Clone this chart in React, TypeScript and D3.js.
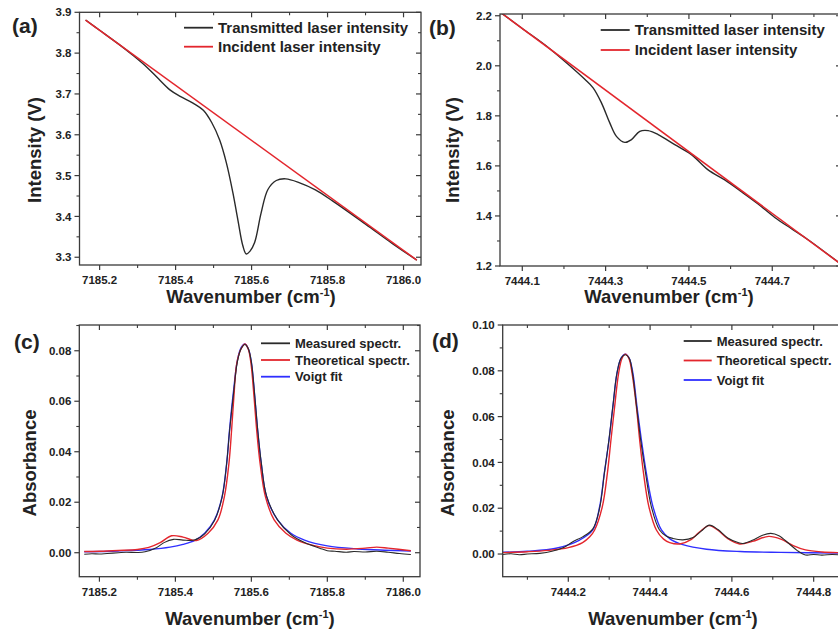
import React from "react";
import * as d3 from "d3";

const FONT = "'Liberation Sans', Arial, Helvetica, sans-serif";

// ---------- Panel (a) ----------
const aXTicks = [7185.2, 7185.4, 7185.6, 7185.8, 7186.0];
const aXMinor = [7185.3, 7185.5, 7185.7, 7185.9];
const aYTicks = [3.3, 3.4, 3.5, 3.6, 3.7, 3.8, 3.9];
const aYMinor = [3.35, 3.45, 3.55, 3.65, 3.75, 3.85];
const aTransmitted: [number, number][] = [
  [7185.163, 3.881], [7185.2, 3.856], [7185.25, 3.822], [7185.29, 3.793],
  [7185.325, 3.765], [7185.355, 3.737], [7185.385, 3.71], [7185.412, 3.694],
  [7185.447, 3.677], [7185.473, 3.66], [7185.495, 3.63], [7185.516, 3.587],
  [7185.534, 3.53], [7185.551, 3.457], [7185.564, 3.391], [7185.577, 3.328],
  [7185.586, 3.308], [7185.596, 3.315], [7185.608, 3.336], [7185.625, 3.408],
  [7185.643, 3.466], [7185.665, 3.488], [7185.69, 3.492], [7185.725, 3.483],
  [7185.768, 3.465], [7185.813, 3.438], [7185.9, 3.381], [7185.97, 3.334],
  [7186.035, 3.293],
];
const aIncident: [number, number][] = [[7185.163, 3.881], [7186.035, 3.293]];

// ---------- Panel (b) ----------
const bXTicks = [7444.1, 7444.3, 7444.5, 7444.7];
const bXMinor = [7444.2, 7444.4, 7444.6, 7444.8];
const bYTicks = [1.2, 1.4, 1.6, 1.8, 2.0, 2.2];
const bYMinor = [1.3, 1.5, 1.7, 1.9, 2.1];
const bTransmitted: [number, number][] = [
  [7444.048, 2.213], [7444.1, 2.149], [7444.154, 2.084], [7444.21, 2.006],
  [7444.25, 1.946], [7444.27, 1.912], [7444.29, 1.852], [7444.31, 1.772],
  [7444.326, 1.718], [7444.346, 1.694], [7444.362, 1.705], [7444.382, 1.738],
  [7444.402, 1.741], [7444.426, 1.725], [7444.466, 1.685], [7444.506, 1.645],
  [7444.546, 1.584], [7444.586, 1.544], [7444.626, 1.497], [7444.666, 1.448],
  [7444.706, 1.394], [7444.746, 1.349], [7444.786, 1.305], [7444.865, 1.207],
];
const bIncident: [number, number][] = [[7444.048, 2.213], [7444.865, 1.207]];

// ---------- Panel (c) ----------
const cXTicks = [7185.2, 7185.4, 7185.6, 7185.8, 7186.0];
const cXMinor = [7185.3, 7185.5, 7185.7, 7185.9];
const cYTicks = [0, 0.02, 0.04, 0.06, 0.08];
const cYMinor = [0.01, 0.03, 0.05, 0.07, 0.09];
const cMeasured: [number, number][] = [
  [7185.16, -0.0006], [7185.18, -0.0004], [7185.2, -0.0005], [7185.22, -0.0003],
  [7185.25, 0.0], [7185.27, 0.0002], [7185.3, 0.0001], [7185.32, 0.0004],
  [7185.35, 0.002], [7185.37, 0.004], [7185.395, 0.0053], [7185.42, 0.005],
  [7185.45, 0.005], [7185.477, 0.0075], [7185.503, 0.0128], [7185.523, 0.022],
  [7185.535, 0.0354], [7185.5425, 0.048], [7185.553, 0.063], [7185.563, 0.0755],
  [7185.573, 0.0808], [7185.583, 0.0825], [7185.592, 0.0808], [7185.6, 0.0755],
  [7185.609, 0.062], [7185.6165, 0.049], [7185.626, 0.0358], [7185.64, 0.0225],
  [7185.669, 0.013], [7185.704, 0.0072], [7185.74, 0.004], [7185.78, 0.0018],
  [7185.8, 0.0008], [7185.82, 0.0006], [7185.85, 0.0002], [7185.87, 0.0005],
  [7185.9, 0.0003], [7185.93, 0.0006], [7185.96, 0.0002], [7185.99, -0.0003],
  [7186.02, -0.0007],
];
const cTheoretical: [number, number][] = [
  [7185.16, 0.0005], [7185.2, 0.0006], [7185.25, 0.0009], [7185.3, 0.0013],
  [7185.33, 0.0021], [7185.36, 0.004], [7185.39, 0.0067], [7185.42, 0.0062],
  [7185.455, 0.0048], [7185.486, 0.0077], [7185.512, 0.013], [7185.529, 0.0222],
  [7185.541, 0.0354], [7185.548, 0.0486], [7185.554, 0.0618], [7185.5616, 0.075],
  [7185.573, 0.0808], [7185.5835, 0.0827], [7185.592, 0.0806], [7185.599, 0.075],
  [7185.607, 0.0618], [7185.614, 0.0486], [7185.623, 0.0354], [7185.637, 0.0222],
  [7185.66, 0.013], [7185.691, 0.0077], [7185.72, 0.005], [7185.76, 0.003],
  [7185.8, 0.0018], [7185.85, 0.0014], [7185.9, 0.0018], [7185.93, 0.0022],
  [7185.96, 0.0018], [7186.02, 0.0008],
];
const cVoigt: [number, number][] = [
  [7185.16, 0.0004], [7185.25, 0.0007], [7185.333, 0.0013], [7185.386, 0.0022],
  [7185.42, 0.0033], [7185.451, 0.0049], [7185.477, 0.0077], [7185.503, 0.013],
  [7185.523, 0.0222], [7185.535, 0.0354], [7185.5425, 0.0486], [7185.553, 0.064],
  [7185.563, 0.076], [7185.573, 0.0812], [7185.583, 0.0827], [7185.592, 0.0808],
  [7185.6, 0.0755], [7185.609, 0.0618], [7185.6165, 0.0486], [7185.626, 0.0354],
  [7185.64, 0.0222], [7185.669, 0.013], [7185.704, 0.0077], [7185.74, 0.005],
  [7185.8, 0.0027], [7185.88, 0.0015], [7185.95, 0.001], [7186.02, 0.0007],
];

// ---------- Panel (d) ----------
const dXTicks = [7444.2, 7444.4, 7444.6, 7444.8];
const dXMinor = [7444.1, 7444.3, 7444.5, 7444.7];
const dYTicks = [0, 0.02, 0.04, 0.06, 0.08, 0.1];
const dYMinor = [0.01, 0.03, 0.05, 0.07, 0.09];
const dMeasured: [number, number][] = [
  [7444.04, -0.0002], [7444.06, 0.0001], [7444.08, -0.0003], [7444.1, 0.0],
  [7444.13, 0.0003], [7444.16, 0.0012], [7444.19, 0.003], [7444.211, 0.0054],
  [7444.235, 0.0075], [7444.26, 0.011], [7444.2766, 0.02], [7444.288, 0.035],
  [7444.2995, 0.05], [7444.309, 0.0645], [7444.319, 0.079], [7444.329, 0.0855],
  [7444.3395, 0.087], [7444.349, 0.0855], [7444.357, 0.079], [7444.367, 0.0643],
  [7444.377, 0.0498], [7444.389, 0.0352], [7444.403, 0.0207], [7444.423, 0.0105],
  [7444.44, 0.0078], [7444.456, 0.0068], [7444.48, 0.0062], [7444.505, 0.0072],
  [7444.525, 0.01], [7444.545, 0.0126], [7444.565, 0.0108], [7444.59, 0.007],
  [7444.615, 0.005], [7444.627, 0.0046], [7444.65, 0.006], [7444.675, 0.0082],
  [7444.695, 0.009], [7444.715, 0.008], [7444.74, 0.0045], [7444.76, 0.0015],
  [7444.78, -0.0004], [7444.8, -0.0002], [7444.82, -0.0005], [7444.845, -0.0002],
  [7444.865, -0.0004],
];
const dTheoretical: [number, number][] = [
  [7444.04, 0.0006], [7444.1, 0.001], [7444.15, 0.0016], [7444.2, 0.0028],
  [7444.235, 0.005], [7444.2525, 0.0075], [7444.2644, 0.0105], [7444.2832, 0.0207],
  [7444.2955, 0.0352], [7444.3043, 0.0498], [7444.3133, 0.0643], [7444.323, 0.0789],
  [7444.3315, 0.0855], [7444.3395, 0.0873], [7444.348, 0.0855], [7444.356, 0.0789],
  [7444.3665, 0.0643], [7444.3745, 0.0498], [7444.384, 0.0352], [7444.397, 0.0207],
  [7444.4154, 0.0105], [7444.433, 0.0065], [7444.448, 0.005], [7444.4725, 0.0044],
  [7444.5, 0.0063], [7444.52, 0.0095], [7444.544, 0.0124], [7444.565, 0.0105],
  [7444.59, 0.0067], [7444.619, 0.0044], [7444.65, 0.0055], [7444.69, 0.0077],
  [7444.72, 0.0065], [7444.75, 0.0037], [7444.78, 0.0018], [7444.82, 0.0009],
  [7444.87, 0.0006],
];
const dVoigt: [number, number][] = [
  [7444.04, 0.0008], [7444.1, 0.0012], [7444.17, 0.0025], [7444.2277, 0.0061],
  [7444.26, 0.0105], [7444.2766, 0.0207], [7444.288, 0.0352], [7444.2995, 0.0498],
  [7444.309, 0.0643], [7444.319, 0.0789], [7444.329, 0.0855], [7444.3395, 0.0873],
  [7444.349, 0.0855], [7444.358, 0.0789], [7444.368, 0.0643], [7444.3787, 0.0498],
  [7444.391, 0.0352], [7444.407, 0.0207], [7444.4277, 0.0105], [7444.45, 0.0064],
  [7444.48, 0.0041], [7444.538, 0.0021], [7444.62, 0.0011], [7444.72, 0.0007],
  [7444.87, 0.0004],
];

const BLACK = "#2a2a2a";
const RED = "#e3262d";
const BLUE = "#2f2fff";
const AXIS = "#3a3a3a";

type Series = { data: [number, number][]; color: string; width: number };
type LegendItem = { label: string; color: string };

type PanelProps = {
  id: string;
  left: number; right: number; top: number; bottom: number;
  xDomain: [number, number]; yDomain: [number, number];
  xTicks: number[]; xMinor: number[]; yTicks: number[]; yMinor: number[];
  xDec: number; yDec: number;
  series: Series[];
  legend: LegendItem[];
  legX: number; legY: number; legDy: number; legFont: number; legLine: number;
  letter: string; letterX: number; letterY: number;
  yLabel: string; yLabelX: number; yLabelY: number;
  xLabelX: number; xLabelY: number;
};

function Panel(p: PanelProps) {
  const x = d3.scaleLinear().domain(p.xDomain).range([p.left, p.right]);
  const y = d3.scaleLinear().domain(p.yDomain).range([p.bottom, p.top]);
  const line = d3
    .line<[number, number]>()
    .x((d) => x(d[0]))
    .y((d) => y(d[1]))
    .curve(d3.curveCatmullRom.alpha(0.5));
  const MAJ = 5;
  const MIN = 3;
  const tickFont = 11.5;
  return (
    <g>
      <defs>
        <clipPath id={`clip-${p.id}`}>
          <rect x={p.left} y={p.top} width={p.right - p.left} height={p.bottom - p.top} />
        </clipPath>
      </defs>
      <g clipPath={`url(#clip-${p.id})`}>
        {p.series.map((s, i) => (
          <path key={i} d={line(s.data) || ""} fill="none" stroke={s.color} strokeWidth={s.width} strokeLinejoin="round" />
        ))}
      </g>
      <rect x={p.left} y={p.top} width={p.right - p.left} height={p.bottom - p.top} fill="none" stroke={AXIS} strokeWidth={1.3} />
      {p.xTicks.map((t, i) => (
        <g key={`xt${i}`}>
          <line x1={x(t)} x2={x(t)} y1={p.bottom} y2={p.bottom + MAJ} stroke={AXIS} strokeWidth={1.2} />
          <line x1={x(t)} x2={x(t)} y1={p.top} y2={p.top + MAJ} stroke={AXIS} strokeWidth={1.2} />
          <text x={x(t)} y={p.bottom + 19} textAnchor="middle" fontSize={tickFont} fontWeight="bold" fill="#222" fontFamily={FONT}>
            {t.toFixed(p.xDec)}
          </text>
        </g>
      ))}
      {p.xMinor.map((t, i) => (
        <g key={`xm${i}`}>
          <line x1={x(t)} x2={x(t)} y1={p.bottom} y2={p.bottom + MIN} stroke={AXIS} strokeWidth={1.1} />
          <line x1={x(t)} x2={x(t)} y1={p.top} y2={p.top + MIN} stroke={AXIS} strokeWidth={1.1} />
        </g>
      ))}
      {p.yTicks.map((t, i) => (
        <g key={`yt${i}`}>
          <line x1={p.left - MAJ} x2={p.left} y1={y(t)} y2={y(t)} stroke={AXIS} strokeWidth={1.2} />
          <line x1={p.right - MAJ} x2={p.right} y1={y(t)} y2={y(t)} stroke={AXIS} strokeWidth={1.2} />
          <text x={p.left - 8} y={y(t)} dy="0.36em" textAnchor="end" fontSize={tickFont} fontWeight="bold" fill="#222" fontFamily={FONT}>
            {t.toFixed(p.yDec)}
          </text>
        </g>
      ))}
      {p.yMinor.map((t, i) => (
        <g key={`ym${i}`}>
          <line x1={p.left - MIN} x2={p.left} y1={y(t)} y2={y(t)} stroke={AXIS} strokeWidth={1.1} />
          <line x1={p.right - MIN} x2={p.right} y1={y(t)} y2={y(t)} stroke={AXIS} strokeWidth={1.1} />
        </g>
      ))}
      {p.legend.map((l, i) => (
        <g key={`lg${i}`}>
          <line x1={p.legX} x2={p.legX + p.legLine} y1={p.legY + i * p.legDy} y2={p.legY + i * p.legDy} stroke={l.color} strokeWidth={1.8} />
          <text x={p.legX + p.legLine + 5} y={p.legY + i * p.legDy} dy="0.35em" fontSize={p.legFont} fontWeight="bold" fill="#222" fontFamily={FONT}>
            {l.label}
          </text>
        </g>
      ))}
      <text x={p.letterX} y={p.letterY} fontSize={21} fontWeight="bold" fill="#222" fontFamily={FONT}>
        {p.letter}
      </text>
      <text
        transform={`translate(${p.yLabelX},${p.yLabelY}) rotate(-90)`}
        dy="0.35em"
        textAnchor="middle"
        fontSize={18.5}
        fontWeight="bold"
        fill="#222"
        fontFamily={FONT}
      >
        {p.yLabel}
      </text>
      <text x={p.xLabelX} y={p.xLabelY} textAnchor="middle" fontSize={18.5} fontWeight="bold" fill="#222" fontFamily={FONT}>
        Wavenumber (cm
        <tspan fontSize={11} dy={-7}>-1</tspan>
        <tspan dy={7}>)</tspan>
      </text>
    </g>
  );
}

export default function App() {
  return (
    <svg
      width={838}
      height={631}
      viewBox="0 0 838 631"
      style={{ position: "absolute", left: 0, top: 0, background: "#fff" }}
    >
      <rect x={0} y={0} width={838} height={631} fill="#fff" />
      <Panel
        id="a"
        left={79.5} right={421} top={12.3} bottom={265}
        xDomain={[7185.147, 7186.046]} yDomain={[3.281, 3.9]}
        xTicks={aXTicks} xMinor={aXMinor} yTicks={aYTicks} yMinor={aYMinor}
        xDec={1} yDec={1}
        series={[
          { data: aTransmitted, color: BLACK, width: 1.4 },
          { data: aIncident, color: RED, width: 1.5 },
        ]}
        legend={[
          { label: "Transmitted laser intensity", color: BLACK },
          { label: "Incident laser intensity", color: RED },
        ]}
        legX={184} legY={27.7} legDy={19} legFont={15} legLine={29}
        letter="(a)" letterX={12} letterY={33}
        yLabel="Intensity (V)" yLabelX={35} yLabelY={150}
        xLabelX={251} xLabelY={303}
      />
      <Panel
        id="b"
        left={500} right={841} top={14} bottom={266}
        xDomain={[7444.0465, 7444.865]} yDomain={[1.2, 2.207]}
        xTicks={bXTicks} xMinor={bXMinor} yTicks={bYTicks} yMinor={bYMinor}
        xDec={1} yDec={1}
        series={[
          { data: bTransmitted, color: BLACK, width: 1.4 },
          { data: bIncident, color: RED, width: 1.5 },
        ]}
        legend={[
          { label: "Transmitted laser intensity", color: BLACK },
          { label: "Incident laser intensity", color: RED },
        ]}
        legX={600.7} legY={30} legDy={20} legFont={15} legLine={29}
        letter="(b)" letterX={429} letterY={35}
        yLabel="Intensity (V)" yLabelX={453} yLabelY={150}
        xLabelX={669} xLabelY={303}
      />
      <Panel
        id="c"
        left={79.3} right={420} top={325} bottom={576.7}
        xDomain={[7185.147, 7186.044]} yDomain={[-0.0095, 0.0902]}
        xTicks={cXTicks} xMinor={cXMinor} yTicks={cYTicks} yMinor={cYMinor}
        xDec={1} yDec={2}
        series={[
          { data: cVoigt, color: BLUE, width: 1.4 },
          { data: cTheoretical, color: RED, width: 1.4 },
          { data: cMeasured, color: BLACK, width: 1.1 },
        ]}
        legend={[
          { label: "Measured spectr.", color: BLACK },
          { label: "Theoretical spectr.", color: RED },
          { label: "Voigt fit", color: BLUE },
        ]}
        legX={261} legY={343.3} legDy={16.7} legFont={13} legLine={29}
        letter="(c)" letterX={14} letterY={349}
        yLabel="Absorbance" yLabelX={30} yLabelY={463}
        xLabelX={250} xLabelY={625}
      />
      <Panel
        id="d"
        left={502.7} right={845} top={325} bottom={576.7}
        xDomain={[7444.0396, 7444.8766]} yDomain={[-0.0099, 0.1]}
        xTicks={dXTicks} xMinor={dXMinor} yTicks={dYTicks} yMinor={dYMinor}
        xDec={1} yDec={2}
        series={[
          { data: dVoigt, color: BLUE, width: 1.4 },
          { data: dTheoretical, color: RED, width: 1.4 },
          { data: dMeasured, color: BLACK, width: 1.1 },
        ]}
        legend={[
          { label: "Measured spectr.", color: BLACK },
          { label: "Theoretical spectr.", color: RED },
          { label: "Voigt fit", color: BLUE },
        ]}
        legX={683.7} legY={341} legDy={19.5} legFont={13} legLine={28}
        letter="(d)" letterX={432} letterY={348}
        yLabel="Absorbance" yLabelX={448} yLabelY={463}
        xLabelX={673} xLabelY={625}
      />
    </svg>
  );
}
